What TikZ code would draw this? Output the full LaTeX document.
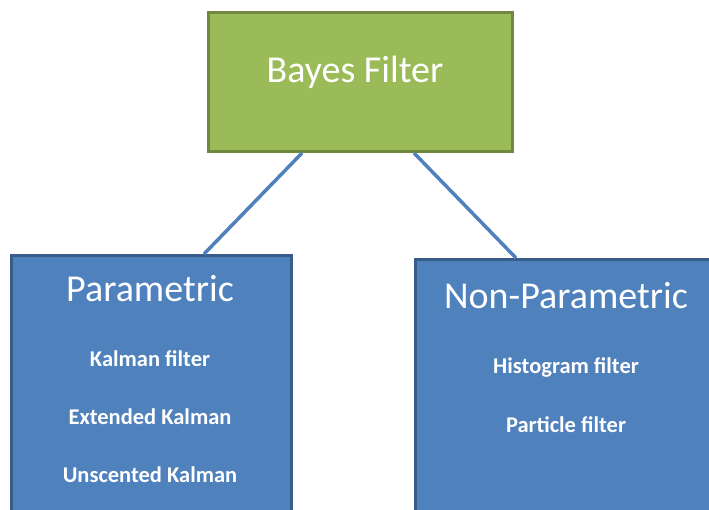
\documentclass[tikz,border=0pt]{standalone}
\usepackage{fontspec}
\setmainfont{Carlito}
\definecolor{greenfill}{HTML}{9BBB59}
\definecolor{greendraw}{HTML}{71893F}
\definecolor{bluefill}{HTML}{4F81BD}
\definecolor{bluedraw}{HTML}{385D8A}
\tikzset{
  greenbox/.style={draw=greendraw, fill=greenfill, line width=3pt, inner sep=0pt, anchor=north west},
  bluebox/.style={draw=bluedraw, fill=bluefill, line width=3pt, inner sep=0pt, anchor=north west},
  titletext/.style={text=white, font=\fontsize{38}{40}\selectfont, inner sep=0pt},
  itemtext/.style={text=white, font=\bfseries\fontsize{22.5}{24}\selectfont, inner sep=0pt},
  link/.style={draw=bluefill, line width=3.5pt}
}
\begin{document}
\begin{tikzpicture}[x=1pt,y=-1pt]
\useasboundingbox (0,0) rectangle (709,509);
\clip (0,0) rectangle (709,509);
\fill[white] (0,0) rectangle (709,509);
\node[greenbox, minimum width=304pt, minimum height=139pt] (bayes) at (207,11) {};
\node[bluebox, minimum width=280pt, minimum height=300pt] (param) at (10,254) {};
\node[bluebox, minimum width=300pt, minimum height=300pt] (nonparam) at (414,258) {};
\draw[link] ([xshift=95pt]bayes.south west) -- ([xshift=194pt]param.north west);
\draw[link] ([xshift=207pt]bayes.south west) -- ([xshift=102pt]nonparam.north west);
\node[titletext] (tbayes) at (355,72) {Bayes Filter};
\node[titletext] (tparam) at (150,289) {Parametric};
\node[titletext] (tnonparam) at (566,296) {Non-Parametric};
\node[itemtext] (kf) at (150,359) {Kalman filter};
\node[itemtext] (ekf) at (150,417) {Extended Kalman};
\node[itemtext] (ukf) at (150,475) {Unscented Kalman};
\node[itemtext] (hf) at (566,367) {Histogram filter};
\node[itemtext] (pf) at (566,425) {Particle filter};
\end{tikzpicture}
\end{document}
